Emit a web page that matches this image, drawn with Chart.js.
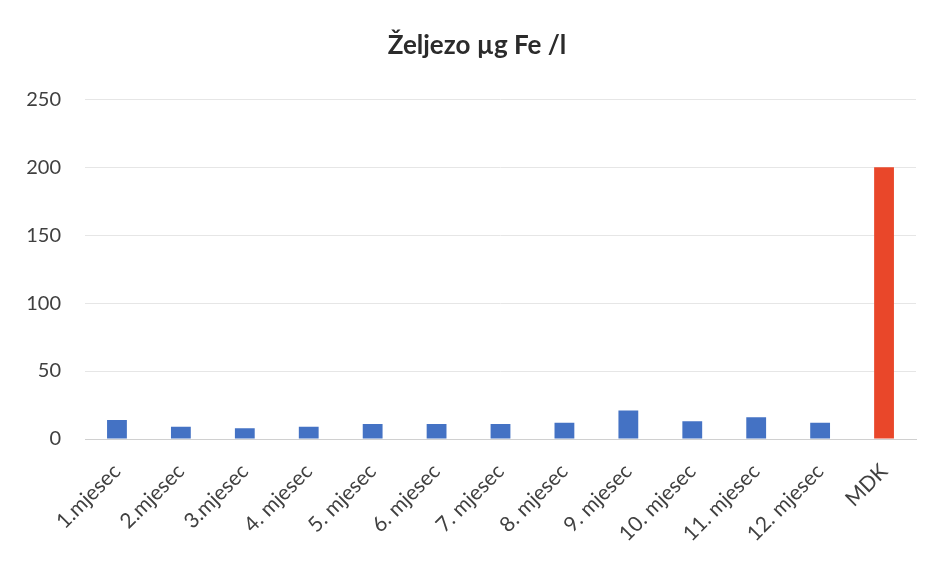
<!DOCTYPE html>
<html>
<head>
<meta charset="utf-8">
<script src="https://cdn.jsdelivr.net/npm/chart.js@4/dist/chart.umd.min.js"></script>
<style>
html,body{margin:0;padding:0;background:#fff;}
#wrap{width:934px;height:562px;position:relative;}
</style>
</head>
<body>
<div id="wrap"><canvas id="c" width="934" height="562"></canvas></div>
<script>
const categories = ["1.mjesec","2.mjesec","3.mjesec","4. mjesec","5. mjesec","6. mjesec","7. mjesec","8. mjesec","9. mjesec","10. mjesec","11. mjesec","12. mjesec","MDK"];
const values = [14, 9, 8, 9, 11, 11, 11, 12, 21, 13, 16, 12, 200];
const barColors = ["#4472C4","#4472C4","#4472C4","#4472C4","#4472C4","#4472C4","#4472C4","#4472C4","#4472C4","#4472C4","#4472C4","#4472C4","#E9472A"];
const yTicks = [0, 50, 100, 150, 200, 250];
const chartTitle = "Željezo µg Fe /l";

const FONT = "Lato, 'Open Sans', sans-serif";

const titleShift = {
  id: 'titleShift',
  afterLayout(chart) {
    const t = chart.titleBlock;
    if (t) { t.left = chart.chartArea.left - 47; t.right = chart.chartArea.right; }
  }
};

new Chart(document.getElementById('c'), {
  type: 'bar',
  data: {
    labels: categories,
    datasets: [{
      data: values,
      backgroundColor: barColors,
      categoryPercentage: 1,
      barPercentage: 0.31
    }]
  },
  options: {
    responsive: false,
    animation: false,
    layout: { padding: { left: 0, right: 18, top: 30, bottom: 0 } },
    plugins: {
      legend: { display: false },
      tooltip: { enabled: false },
      title: {
        display: true,
        text: chartTitle,
        color: '#2b2b2b',
        font: { family: FONT, size: 26, weight: 'bold' },
        padding: { top: 0, bottom: 38 }
      }
    },
    scales: {
      x: {
        grid: { display: false, drawTicks: false },
        border: { color: '#d0d0d0' },
        ticks: {
          color: '#404040',
          font: { family: FONT, size: 21 },
          minRotation: 45, maxRotation: 45,
          padding: 20,
          autoSkip: false
        },
        afterFit: (s) => { s.height = 123; }
      },
      y: {
        min: 0, max: 250,
        afterBuildTicks: (s) => { s.ticks = yTicks.map(v => ({ value: v })); },
        grid: { color: '#e6e6e6', drawTicks: false },
        border: { display: false },
        ticks: {
          color: '#404040',
          font: { family: FONT, size: 20 },
          padding: 24
        },
        afterFit: (s) => { s.width = 85; }
      }
    }
  },
  plugins: [titleShift]
});
</script>
</body>
</html>
